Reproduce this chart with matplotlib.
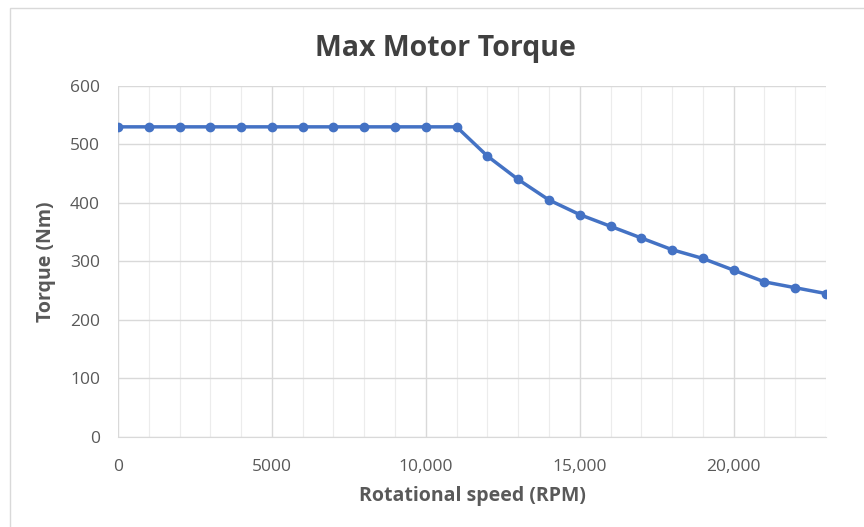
import matplotlib
matplotlib.use("Agg")
import matplotlib.pyplot as plt
from matplotlib.patches import Rectangle
from matplotlib.ticker import FuncFormatter, MultipleLocator

speed_rpm = [0, 1000, 2000, 3000, 4000, 5000, 6000, 7000, 8000, 9000, 10000, 11000,
             12000, 13000, 14000, 15000, 16000, 17000, 18000, 19000, 20000, 21000, 22000, 23000]
torque_nm = [530, 530, 530, 530, 530, 530, 530, 530, 530, 530, 530, 530,
             480, 440, 405, 380, 360, 340, 320, 305, 285, 265, 255, 245]
x_ticks = [0, 5000, 10000, 15000, 20000]

plt.rcParams['font.family'] = ['Open Sans', 'DejaVu Sans']

fig = plt.figure(figsize=(8.64, 5.27), dpi=100)
ax = fig.add_axes([0.1366, 0.171, 0.8194, 0.666])

# light frame around the chart area, like the Excel chart border
fig.patches.append(Rectangle((0.012, -0.01), 1.0, 0.995, transform=fig.transFigure,
                             fill=False, edgecolor='#d9d9d9', linewidth=1.0))

ax.plot(speed_rpm, torque_nm, color='#4472c4', linewidth=2.5, marker='o',
        markersize=6, zorder=3)

ax.set_xlim(0, 23000)
ax.set_ylim(0, 600)
ax.set_xticks(x_ticks)
ax.xaxis.set_minor_locator(MultipleLocator(1000))
ax.yaxis.set_major_locator(MultipleLocator(100))

def fmt_x(v, pos):
    v = int(v)
    return f"{v:,}" if v >= 10000 else str(v)

ax.xaxis.set_major_formatter(FuncFormatter(fmt_x))

ax.grid(which='major', color='#d9d9d9', linewidth=1.0)
ax.grid(which='minor', axis='x', color='#ececec', linewidth=0.8)
ax.set_axisbelow(True)

for side in ['top', 'right', 'left']:
    ax.spines[side].set_visible(False)
ax.spines['bottom'].set_color('#d9d9d9')

ax.tick_params(which='both', length=0, colors='#595959', labelsize=12.5)
ax.tick_params(axis='x', pad=16)
ax.tick_params(axis='y', pad=13)

ax.set_xlabel('Rotational speed (RPM)', fontsize=14, fontweight='bold',
              color='#595959', labelpad=8)
ax.set_ylabel('Torque (Nm)', fontsize=14, fontweight='bold', color='#595959',
              labelpad=10)
fig.suptitle('Max Motor Torque', fontsize=20.5, fontweight='bold', color='#404040',
             y=0.935, x=0.516)

fig.savefig('out.png', dpi=100)
